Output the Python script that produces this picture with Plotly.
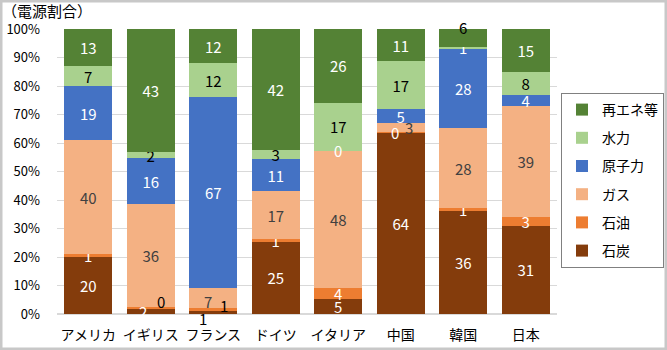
import plotly.graph_objects as go

countries = ["アメリカ", "イギリス", "フランス", "ドイツ", "イタリア", "中国", "韓国", "日本"]
series = ["石炭", "石油", "ガス", "原子力", "水力", "再エネ等"]

coal    = [20, 2.0, 1, 25.4, 5.3, 63.6, 36.0, 31]
oil     = [1, 0.4, 1, 0.9, 3.7, 0.2, 1.2, 3]
gas     = [40, 36.2, 7, 16.8, 48.2, 3.1, 28.0, 39]
nuclear = [19, 16.1, 67, 11.3, 0, 4.9, 27.8, 4]
hydro   = [7, 2.0, 12, 3.2, 16.9, 16.9, 0.8, 8]
renew   = [13, 43.3, 12, 42.4, 25.9, 11.3, 6.2, 15]

values = [coal, oil, gas, nuclear, hydro, renew]
colors = ["#843C0C", "#ED7D31", "#F4B183", "#4472C4", "#A9D18E", "#548235"]
label_colors = ["#FFFFFF", "#FFFFFF", "#404040", "#FFFFFF", "#000000", "#FFFFFF"]

# labels that were moved off their segment in the original (country, series, dx, dy, color)
moved = [
    ("イギリス", "石炭", -8, 0, "#FFFFFF"),
    ("イギリス", "石油", 10, 6, "#000000"),
    ("フランス", "石炭", -10, -6, "#000000"),
    ("フランス", "石油", 11, 4, "#000000"),
    ("フランス", "ガス", -5, -3, "#404040"),
    ("イタリア", "原子力", 0, 0, "#FFFFFF"),
    ("中国", "石油", -6, 0, "#FFFFFF"),
    ("中国", "ガス", 8, 0, "#404040"),
    ("韓国", "再エネ等", 0, 10, "#000000"),
]
moved_keys = {(c, s) for c, s, *_ in moved}

FONT = "Noto Sans CJK JP, Noto Sans, sans-serif"

fig = go.Figure()
for si, (name, vals, col, lcol) in enumerate(zip(series, values, colors, label_colors)):
    texts = []
    tcols = []
    for ci, v in enumerate(vals):
        c = countries[ci]
        texts.append("" if (c, name) in moved_keys else f"{round(v)}")
        tc = lcol
        if name == "水力" and c == "韓国":
            tc = "#FFFFFF"
        tcols.append(tc)
    fig.add_trace(go.Bar(
        x=countries, y=vals, name=name,
        marker=dict(color=col, line=dict(width=0)),
        text=texts, textposition="inside", insidetextanchor="middle",
        textangle=0, constraintext="none",
        textfont=dict(color=tcols, size=15, family=FONT),
        legendgroup=name, legendrank=len(series) - si, hoverinfo="skip",
    ))

annotations = []
for c, s, dx, dy, col in moved:
    ci = countries.index(c)
    si = series.index(s)
    base = sum(values[k][ci] for k in range(si))
    v = values[si][ci]
    annotations.append(dict(
        x=c, y=base + v / 2, xref="x", yref="y", text=f"{round(v)}",
        showarrow=False, xshift=dx, yshift=dy,
        font=dict(color=col, size=15, family=FONT),
    ))

W, H = 667, 350
L, R, T, B = 57, 110, 29, 36
pw, ph = W - L - R, H - T - B

shapes = [dict(
    type="rect", xref="paper", yref="paper",
    x0=(1.25 - L) / pw, x1=(W - 1.25 - L) / pw,
    y0=(-B + 1.25) / ph, y1=(H - B - 1.25) / ph,
    line=dict(color="#C8C8C8", width=2.5), fillcolor="rgba(0,0,0,0)", layer="above",
)]

fig.update_layout(
    width=W, height=H,
    margin=dict(l=L, r=R, t=T, b=B, pad=0, autoexpand=False),
    barmode="stack", bargap=0.23,
    paper_bgcolor="white", plot_bgcolor="white",
    font=dict(family=FONT, color="#000000", size=13),
    title=dict(text="（電源割合）", x=0.003, xanchor="left", xref="container",
               y=1 - 12 / H, yanchor="middle", yref="container",
               font=dict(size=15, color="#000000", family=FONT)),
    showlegend=True,
    legend=dict(
        x=(561 - L) / pw, xanchor="left", y=(314 - 93) / ph, yanchor="top",
        traceorder="grouped", tracegroupgap=7,
        bordercolor="#808080", borderwidth=1, bgcolor="white",
        font=dict(size=14, color="#000000", family=FONT),
    ),
    xaxis=dict(showgrid=False, showline=False, ticks="", ticklabelstandoff=11,
               automargin=False,
               tickfont=dict(size=14, color="#000000", family=FONT), fixedrange=True),
    yaxis=dict(range=[0, 100], dtick=10, ticksuffix="%", showgrid=True,
               gridcolor="#D9D9D9", gridwidth=1, zeroline=True, zerolinecolor="#D9D9D9",
               showline=False, ticks="", ticklabelstandoff=16, automargin=False,
               tickfont=dict(size=13, color="#000000", family=FONT), fixedrange=True),
    annotations=annotations,
    shapes=shapes,
)

fig.write_html("out.html")
